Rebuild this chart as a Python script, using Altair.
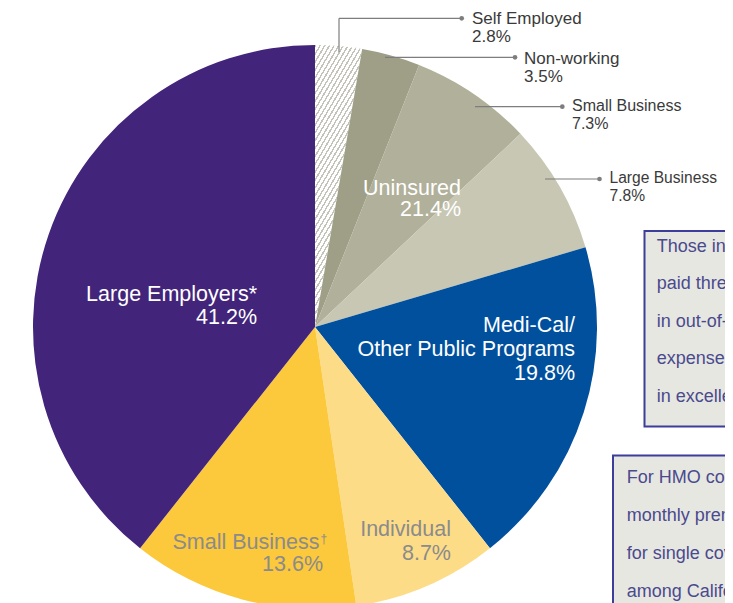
import altair as alt
import pandas as pd

# ---------------- data ----------------
names = ["Self Employed", "Non-working", "Small Business", "Large Business",
         "Medi-Cal/Other Public Programs", "Individual", "Small Business\u2020",
         "Large Employers*"]
values = [2.8, 3.5, 7.3, 7.8, 19.8, 8.7, 13.6, 41.2]
groups = ["Uninsured", "Uninsured", "Uninsured", "Uninsured",
          "Medi-Cal/Other Public Programs", "Individual", "Small Business\u2020",
          "Large Employers*"]
colors = ["#ffffff", "#9e9f86", "#b1b09a", "#c7c7b4",
          "#00509d", "#fddc88", "#fcc83c", "#43247b"]

box1_lines = ["Those in fair or poor health", "paid three times as much",
              "in out-of-pocket medical", "expenses as those",
              "in excellent health."]
box2_lines = ["For HMO coverage, average", "monthly premiums",
              "for single coverage", "among California firms"]

df = pd.DataFrame({"name": names, "value": values, "group": groups,
                   "idx": list(range(len(names)))})

# ---------------- layout ----------------
W, H = 717, 595
CX, CY, R = 307, 319, 282
FONT = "Liberation Sans"
LABEL_SIZE = 21.5
GRAY_TXT = "#8b8b8b"
CALL_TXT = "#3a3a3a"
LINE_C = "#7d7d7d"
BOX_FILL = "#e7e7e1"
BOX_STROKE = "#3d3d9c"
BOX_TXT = "#4a4a8e"

# hatch pattern for the Self Employed slice (diagonal stripes via hard-stop gradient)
N = 46
stops = []
for k in range(N):
    stops += [{"offset": k / N, "color": "#c4c4bb"},
              {"offset": (k + 0.36) / N, "color": "#c4c4bb"},
              {"offset": (k + 0.36) / N, "color": "#ffffff"},
              {"offset": (k + 1) / N, "color": "#ffffff"}]
hatch = {"gradient": "linear", "x1": 0, "y1": 0, "x2": 0.336, "y2": 1.187,
         "stops": stops}

base = alt.Chart(df)

pie = base.mark_arc(outerRadius=R, innerRadius=0, x=CX, y=CY).encode(
    theta=alt.Theta("value:Q", stack=True),
    fill=alt.condition(
        alt.datum.name == "Self Employed",
        alt.value(hatch),
        alt.Fill("name:N", scale=alt.Scale(domain=names, range=colors), legend=None),
    ),
    order=alt.Order("idx:Q"),
)

PCT = "format(datum.value, '.1f') + '%'"


def label(name, text_expr, x, y, align, color, size, lh):
    return base.transform_filter(alt.datum.name == name).transform_calculate(
        lbl=text_expr
    ).mark_text(x=x, y=y, align=align, baseline="alphabetic", font=FONT,
                fontSize=size, color=color, lineBreak="~", lineHeight=lh).encode(
        text="lbl:N")


layers = [pie]

# in-slice labels
layers.append(label("Large Employers*", "datum.name + '~' + " + PCT,
                    249, 293, "right", "white", LABEL_SIZE, 23))
layers.append(label("Medi-Cal/Other Public Programs",
                    "replace(datum.name, '/', '/~') + '~' + " + PCT,
                    567, 323.7, "right", "white", LABEL_SIZE, 24))
SB = "Small Business\u2020"
layers.append(label(SB, "substring(datum.name, 0, length(datum.name) - 1)",
                    311.5, 541, "right", GRAY_TXT, LABEL_SIZE, 22))
layers.append(label(SB, "substring(datum.name, length(datum.name) - 1)",
                    312.5, 535, "left", GRAY_TXT, 12, 12))
layers.append(label(SB, PCT, 315, 563, "right", GRAY_TXT, LABEL_SIZE, 22))
layers.append(label("Individual", "datum.name + '~' + " + PCT,
                    443, 528, "right", GRAY_TXT, LABEL_SIZE, 24))

# Uninsured group total
layers.append(
    base.transform_filter(alt.datum.group == "Uninsured")
    .transform_aggregate(total="sum(value)", groupby=["group"])
    .transform_calculate(lbl="datum.group + '~' + format(datum.total, '.1f') + '%'")
    .mark_text(x=453, y=187, align="right", baseline="alphabetic", font=FONT,
               fontSize=LABEL_SIZE, color="white", lineBreak="~", lineHeight=21)
    .encode(text="lbl:N")
)

# callouts
callouts = [
    # name, text x, text y, font size, line y, line x start, dot x
    ("Self Employed", 464, 16, 17, 10.3, 331, 453.7),
    ("Non-working", 516, 56, 17, 49.3, 377, 507),
    ("Small Business", 564, 103, 16, 98.7, 467, 554.3),
    ("Large Business", 601.5, 175.3, 15.6, 171, 537, 591.5),
]
for nm, tx, ty, fs, ly, lx0, dx in callouts:
    layers.append(label(nm, "datum.name + '~' + " + PCT, tx, ty, "left",
                        CALL_TXT, fs, 17.5))
    sel = base.transform_filter(alt.datum.name == nm)
    layers.append(sel.mark_rule(color=LINE_C, strokeWidth=1.2).encode(
        x=alt.value(lx0), x2=alt.value(dx), y=alt.value(ly), y2=alt.value(ly)))
    layers.append(sel.mark_circle(color=LINE_C, size=22, opacity=1).encode(
        x=alt.value(dx), y=alt.value(ly)))
    if nm == "Self Employed":
        layers.append(sel.mark_rule(color=LINE_C, strokeWidth=1.2).encode(
            x=alt.value(lx0), x2=alt.value(lx0), y=alt.value(44), y2=alt.value(ly)))

# side boxes
box_df = pd.DataFrame({"b1": ["~".join(box1_lines)], "b2": ["~".join(box2_lines)]})
bbase = alt.Chart(box_df)
layers.append(bbase.mark_rect(fill=BOX_FILL, stroke=BOX_STROKE, strokeWidth=2).encode(
    x=alt.value(636.5), x2=alt.value(820), y=alt.value(223), y2=alt.value(418.5)))
layers.append(bbase.mark_rect(fill=BOX_FILL, stroke=BOX_STROKE, strokeWidth=2).encode(
    x=alt.value(605), x2=alt.value(820), y=alt.value(447.5), y2=alt.value(720)))
layers.append(bbase.mark_text(x=648.7, y=244, align="left", baseline="alphabetic",
                              font=FONT, fontSize=18, color=BOX_TXT, lineBreak="~",
                              lineHeight=37.4).encode(text="b1:N"))
layers.append(bbase.mark_text(x=618.7, y=475.3, align="left", baseline="alphabetic",
                              font=FONT, fontSize=18, color=BOX_TXT, lineBreak="~",
                              lineHeight=37.8).encode(text="b2:N"))

chart = alt.layer(*layers).properties(
    width=W, height=H, padding=0,
    autosize=alt.AutoSizeParams(type="none"),
    background="white",
).configure_view(stroke=None)

chart.save("out.html", embed_options={"renderer": "svg", "actions": False})
